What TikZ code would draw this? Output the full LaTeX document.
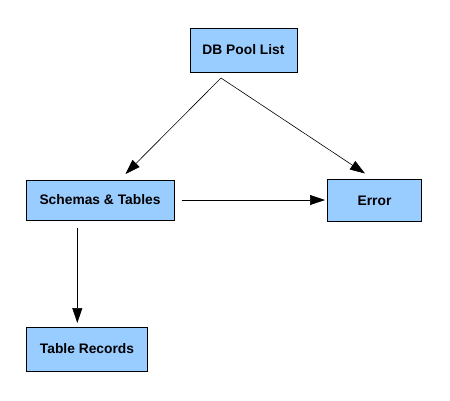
\documentclass[tikz,border=0pt]{standalone}
\usepackage{fontspec}
\setmainfont{Liberation Sans}
\usetikzlibrary{arrows.meta}
\definecolor{boxfill}{HTML}{99CCFF}
\begin{document}
\begin{tikzpicture}[x=1pt,y=-1pt,
  box/.style={draw=black,line width=1pt,fill=boxfill,rectangle,inner sep=0pt,
    font=\fontsize{13.8}{16}\selectfont\bfseries},
  conn/.style={line width=0.6pt,-{Triangle[length=15pt,width=10pt]}}]
\useasboundingbox (0,0) rectangle (450,400);
\node[box,minimum width=107pt,minimum height=44pt] (db) at (243.5,50) {DB Pool List};
\node[box,minimum width=148pt,minimum height=40pt] (sch) at (100,200) {Schemas \& Tables};
\node[box,minimum width=94pt,minimum height=42pt] (err) at (374.5,200.5) {Error};
\node[box,minimum width=121pt,minimum height=44pt] (tr) at (87,349) {Table Records};
\coordinate (apex) at (221,78);
\coordinate (t1) at (125.5,174);
\coordinate (t2) at (365,173.5);
\draw[conn] (apex) -- (t1);
\draw[conn] (apex) -- (t2);
\draw[conn] ([xshift=7pt]sch.east) -- ([xshift=-2pt]err.west |- sch.east);
\draw[conn] ([yshift=-7.5pt]sch.south -| 77.3,0) -- ([yshift=3.5pt]tr.north -| 77.3,0);
\end{tikzpicture}
\end{document}
